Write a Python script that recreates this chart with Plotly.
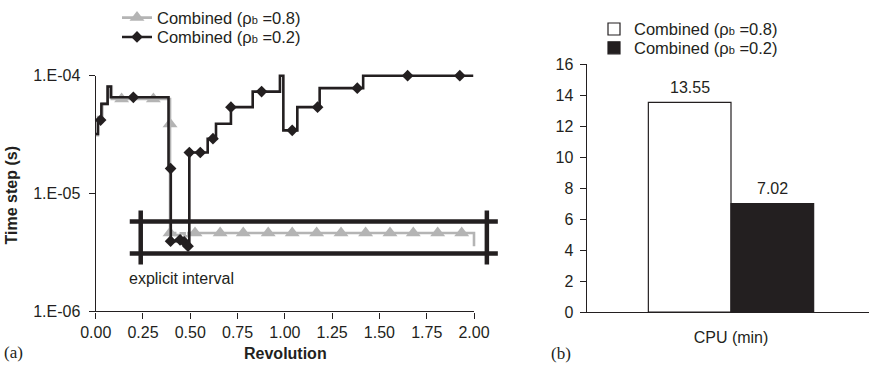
import math
import plotly.graph_objects as go

W, H = 869, 367
INK = "#231f20"
GRAY = "#b4b4b4"
FONT = "Liberation Sans, Arial, sans-serif"
SERIF = "Liberation Serif, Times New Roman, serif"

# ---------------- data ----------------
# (a) time step vs revolution (step curves, 'hv')
rev_08 = [0.0, 0.012, 0.035, 0.063, 0.085, 0.393, 0.42, 0.45, 0.47, 0.49, 2.0]
dt_08 = [3.13e-5, 4.45e-5, 5.77e-5, 8.1e-5, 6.35e-5, 4.63e-6, 4.45e-6, 4.6e-6, 4.35e-6, 4.63e-6, 3.58e-6]
mk_rev_08 = [0.137, 0.305, 0.393, 0.393, 0.525, 0.658, 0.780, 0.912, 1.039, 1.168,
             1.297, 1.427, 1.556, 1.679, 1.808, 1.935]
mk_dt_08 = [6.35e-5, 6.35e-5, 3.9e-5, 4.63e-6, 4.63e-6, 4.63e-6, 4.63e-6, 4.63e-6, 4.63e-6, 4.63e-6,
            4.63e-6, 4.63e-6, 4.63e-6, 4.63e-6, 4.63e-6, 4.63e-6]

rev_02 = [0.0, 0.012, 0.03, 0.063, 0.08, 0.385, 0.397, 0.43, 0.455, 0.475, 0.495, 0.592,
          0.636, 0.715, 0.83, 0.974, 0.992, 1.066, 1.184, 1.414, 1.996]
dt_02 = [3.2e-5, 4.2e-5, 5.77e-5, 8.1e-5, 6.56e-5, 1.63e-5, 3.95e-6, 4.05e-6, 3.9e-6, 3.58e-6,
         2.23e-5, 2.92e-5, 3.91e-5, 5.41e-5, 7.33e-5, 1.0e-4, 3.44e-5, 5.41e-5, 7.84e-5, 1.0e-4, 1.0e-4]
mk_rev_02 = [0.026, 0.199, 0.396, 0.396, 0.446, 0.468, 0.488, 0.495, 0.553, 0.62, 0.715,
             0.877, 1.039, 1.173, 1.383, 1.649, 1.925]
mk_dt_02 = [4.2e-5, 6.56e-5, 1.63e-5, 3.95e-6, 4.05e-6, 3.9e-6, 3.58e-6, 2.23e-5, 2.23e-5, 2.92e-5,
            5.41e-5, 7.33e-5, 3.44e-5, 5.41e-5, 7.84e-5, 1.0e-4, 1.0e-4]

# explicit interval box
interval_x = [0.18, 2.126]
interval_hi = 5.8e-6
interval_lo = 3.1e-6
interval_ends = [0.238, 2.068]
interval_end_y = [2.5e-6, 7.2e-6]

x_ticks = [0.0, 0.25, 0.5, 0.75, 1.0, 1.25, 1.5, 1.75, 2.0]
y_ticks = [1e-6, 1e-5, 1e-4]
y_ticktext = ["1.E-06", "1.E-05", "1.E-04"]

# (b) CPU time
cpu_cat = ["CPU (min)"]
cpu_08 = [13.55]
cpu_02 = [7.02]

SUBB = '<span style="font-size:11px">b</span>'
name_08 = "Combined (ρ" + SUBB + " =0.8)"
name_02 = "Combined (ρ" + SUBB + " =0.2)"

# ---------------- layout geometry (pixels) ----------------
L1, R1 = 95.7, 474.0
T1, B1 = 73.3, 311.0
sx = (R1 - L1) / 2.0
sy = (B1 - T1) / 2.0
X3MAX = 2.25
EXT = 15.0
L2, R2 = 586.7, 869.0
T2, B2 = 62.0, 311.7
BAR_W_PX = 82.65

def px(x):
    return x / W

def py(y):
    return 1 - y / H

fig = go.Figure()

# visible axes holder
fig.add_trace(go.Scatter(x=[None], y=[None], xaxis="x", yaxis="y", showlegend=False))

# series lines
fig.add_trace(go.Scatter(x=rev_08, y=dt_08, mode="lines", line=dict(color=GRAY, width=2.6, shape="hv"),
                         xaxis="x3", yaxis="y3", showlegend=False, hoverinfo="skip"))
fig.add_trace(go.Scatter(x=mk_rev_08, y=mk_dt_08, mode="markers",
                         marker=dict(symbol="triangle-up", size=13, color=GRAY),
                         xaxis="x3", yaxis="y3", showlegend=False, cliponaxis=False))
fig.add_trace(go.Scatter(x=rev_02, y=dt_02, mode="lines", line=dict(color=INK, width=2.6, shape="hv"),
                         xaxis="x3", yaxis="y3", showlegend=False, hoverinfo="skip"))
fig.add_trace(go.Scatter(x=mk_rev_02, y=mk_dt_02, mode="markers",
                         marker=dict(symbol="diamond", size=9, color=INK),
                         xaxis="x3", yaxis="y3", showlegend=False, cliponaxis=False))

# explicit interval box
bx = [interval_x[0], interval_x[1], None, interval_x[0], interval_x[1], None,
      interval_ends[0], interval_ends[0], None, interval_ends[1], interval_ends[1]]
by = [interval_hi, interval_hi, None, interval_lo, interval_lo, None,
      interval_end_y[0], interval_end_y[1], None, interval_end_y[0], interval_end_y[1]]
fig.add_trace(go.Scatter(x=bx, y=by, mode="lines", line=dict(color=INK, width=4.5),
                         xaxis="x3", yaxis="y3", showlegend=False, hoverinfo="skip"))

# legend entries for (a)
fig.add_trace(go.Scatter(x=[None], y=[None], mode="lines+markers", name=name_08,
                         line=dict(color=GRAY, width=2.6),
                         marker=dict(symbol="triangle-up", size=13, color=GRAY),
                         xaxis="x3", yaxis="y3", legend="legend"))
fig.add_trace(go.Scatter(x=[None], y=[None], mode="lines+markers", name=name_02,
                         line=dict(color=INK, width=2.6),
                         marker=dict(symbol="diamond", size=9, color=INK),
                         xaxis="x3", yaxis="y3", legend="legend3"))

# bars
fig.add_trace(go.Bar(x=cpu_cat, y=cpu_08, name=name_08, xaxis="x2", yaxis="y2",
                     marker=dict(color="white", line=dict(color=INK, width=1.2)),
                     legend="legend2"))
fig.add_trace(go.Bar(x=cpu_cat, y=cpu_02, name=name_02, xaxis="x2", yaxis="y2",
                     marker=dict(color=INK, line=dict(color=INK, width=1.2)),
                     legend="legend4"))

axis_common = dict(showgrid=False, zeroline=False, showline=True, linecolor=INK, linewidth=1.3,
                   tickcolor=INK, tickwidth=1.3, ticklen=6, ticks="outside",
                   tickfont=dict(size=16, color=INK, family=FONT), automargin=False, fixedrange=True)

bar_center = 731.0
upp = (bar_center - L2) / 0.5
xr2 = (R2 - bar_center) / upp

LEGFONT = dict(size=16.5, color=INK, family=FONT)

def leg(xp, yp):
    return dict(x=px(xp), y=py(yp), xanchor="left", yanchor="middle", bgcolor="rgba(0,0,0,0)",
                font=LEGFONT, tracegroupgap=0, borderwidth=0)

fig.update_layout(
    width=W, height=H,
    margin=dict(l=0, r=0, t=0, b=0),
    paper_bgcolor="white", plot_bgcolor="rgba(0,0,0,0)",
    font=dict(family=FONT, size=16, color=INK),
    barmode="group", bargap=1 - 2 * BAR_W_PX / upp, bargroupgap=0,
    xaxis=dict(domain=[px(L1), px(R1)], range=[0, 2], anchor="y",
               tickvals=x_ticks, ticktext=[f"{v:.2f}" for v in x_ticks], **axis_common),
    yaxis=dict(domain=[py(B1), py(T1)], type="log", range=[-6, -4], anchor="x",
               tickvals=y_ticks, ticktext=y_ticktext, ticklabelstandoff=5, **axis_common),
    xaxis3=dict(domain=[px(L1), px(L1 + X3MAX * sx)], range=[0, X3MAX], anchor="y3",
                visible=False, fixedrange=True),
    yaxis3=dict(domain=[py(B1), py(T1 - EXT)], type="log", range=[-6, -4 + EXT / sy], anchor="x3",
                visible=False, fixedrange=True),
    xaxis2=dict(domain=[px(L2), 1.0], type="category", range=[-0.5, xr2], anchor="y2",
                showgrid=False, zeroline=False, showline=True, linecolor=INK, linewidth=1.3,
                ticks="", tickfont=dict(size=16, color=INK, family=FONT), ticklabelstandoff=10,
                automargin=False, fixedrange=True),
    yaxis2=dict(domain=[py(B2), py(T2)], range=[0, 16], dtick=2, anchor="x2",
                ticklabelstandoff=3, **axis_common),
    legend=leg(117, 15),
    legend3=leg(117, 34.5),
    legend2=leg(594, 26.5),
    legend4=leg(594, 45.5),
    showlegend=True,
)

ann = [
    dict(text="<b>Time step (s)</b>", x=px(11), y=py(194), textangle=-90),
    dict(text="<b>Revolution</b>", x=px(285), y=py(353)),
    dict(text="(a)", x=px(13), y=py(352), font=dict(family=SERIF, size=17, color=INK)),
    dict(text="(b)", x=px(561), y=py(353), font=dict(family=SERIF, size=17, color=INK)),
]
for a in ann:
    a.update(xref="paper", yref="paper", showarrow=False, xanchor="center", yanchor="middle")
    a.setdefault("font", dict(family=FONT, size=16, color=INK))
    fig.add_annotation(**a)

fig.add_annotation(text="explicit interval", x=0.165, y=math.log10(1.92e-6), xref="x", yref="y",
                   xanchor="left", yanchor="middle", showarrow=False,
                   font=dict(family=FONT, size=16, color=INK))

# bar value labels
for vals, sgn in ((cpu_08, -1), (cpu_02, 1)):
    for c, v in zip(cpu_cat, vals):
        fig.add_annotation(text=f"{v:.2f}", x=c, y=v, xref="x2", yref="y2", showarrow=False,
                           xanchor="center", yanchor="middle", yshift=15,
                           xshift=sgn * BAR_W_PX / 2, font=dict(family=FONT, size=16, color=INK))

fig.write_html("out.html")
